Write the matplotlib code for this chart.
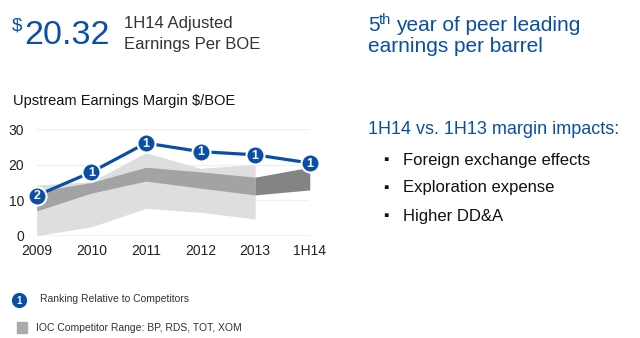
import matplotlib
matplotlib.use("Agg")
import matplotlib.pyplot as plt
from matplotlib.patches import Rectangle

plt.rcParams['font.family'] = ['Liberation Sans', 'DejaVu Sans']

years = ["2009", "2010", "2011", "2012", "2013", "1H14"]
margin = [11.3, 17.9, 26.1, 23.7, 22.8, 20.5]
ranking = [2, 1, 1, 1, 1, 1]
outer_low = [0.0, 2.5, 7.7, 6.6, 4.7]
outer_high = [14.3, 15.2, 23.4, 19.0, 20.1]
band_low = [7.0, 12.0, 15.4, 13.4, 11.5, 12.9]
band_high = [12.4, 15.0, 19.3, 18.0, 16.5, 19.3]
yticks = [0, 10, 20, 30]

BLUE = "#0a4ea6"
fig = plt.figure(figsize=(6.4, 3.38), dpi=100)
ax = fig.add_axes([0.0573, 0.3027, 0.4267, 0.3148])
x = list(range(len(years)))

for y in yticks[1:]:
    ax.axhline(y, color="#f0f0f0", lw=1, zorder=0)
ax.axhline(0, color="#bfbfbf", lw=1, zorder=1)

ax.fill_between(x[:5], outer_low, outer_high, color="#dedede", lw=0, zorder=1)
ax.fill_between(x[:5], band_low[:5], band_high[:5], color="#a3a3a3", lw=0, zorder=2)
ax.fill_between(x[4:], band_low[4:], band_high[4:], color="#848484", lw=0, zorder=2)

ax.plot(x, margin, color=BLUE, lw=2.3, zorder=3, clip_on=False)
ax.plot(x, margin, 'o', ms=13, mfc=BLUE, mec="white", mew=1.5, zorder=4, clip_on=False)
for xi, yi, r in zip(x, margin, ranking):
    ax.text(xi, yi - 0.2, str(r), color="white", fontsize=9, fontweight="bold",
            ha="center", va="center", zorder=5)

ax.set_xlim(0, 5)
ax.set_ylim(0, 30)
ax.set_xticks(x)
ax.set_xticklabels(years)
ax.set_yticks(yticks)
ax.tick_params(length=0, labelsize=10, colors="#222222")
ax.tick_params(axis='x', pad=6)
ax.tick_params(axis='y', pad=9)
for s in ax.spines.values():
    s.set_visible(False)

fig.text(13/640, 1 - 101/338, "Upstream Earnings Margin $/BOE", fontsize=10.5,
         color="#111111", va="center", ha="left")

def Y(py):
    return 1 - py / 338

# header
fig.text(12/640, Y(31), "$", fontsize=13.5, color=BLUE, va="baseline", ha="left")
fig.text(24.5/640, Y(44), "20.32", fontsize=24.5, color=BLUE, va="baseline", ha="left")
fig.text(124/640, Y(28), "1H14 Adjusted", fontsize=12, color="#333333", va="baseline")
fig.text(124/640, Y(49), "Earnings Per BOE", fontsize=12, color="#333333", va="baseline")
fig.text(368/640, Y(31), "5", fontsize=15, color=BLUE, va="baseline")
fig.text(378.5/640, Y(24.5), "th", fontsize=10.5, color=BLUE, va="baseline")
fig.text(396.5/640, Y(31), "year of peer leading", fontsize=15, color=BLUE, va="baseline")
fig.text(368/640, Y(52.5), "earnings per barrel", fontsize=15, color=BLUE, va="baseline")

fig.text(368/640, Y(130), "1H14 vs. 1H13 margin impacts:", fontsize=13,
         color=BLUE, va="center")
for i, t in enumerate(["Foreign exchange effects", "Exploration expense", "Higher DD&A"]):
    yy = Y(160 + 28 * i)
    fig.text(383/640, yy, "\u25aa", fontsize=11, color="#111111", va="center")
    fig.text(403/640, yy, t, fontsize=12, color="#111111", va="center")

# legend
fig.lines.append(plt.Line2D([19/640], [Y(300)], marker='o', ms=12, mfc=BLUE,
                            mec="white", transform=fig.transFigure))
fig.text(19/640, Y(300.5), "1", fontsize=7, color="white", fontweight="bold",
         ha="center", va="center")
fig.text(40/640, Y(299), "Ranking Relative to Competitors", fontsize=7.5,
         color="#333333", va="center")
fig.patches.append(Rectangle((17/640, Y(333)), 10/640, 11/338, color="#ababab",
                             transform=fig.transFigure))
fig.text(36/640, Y(328), "IOC Competitor Range: BP, RDS, TOT, XOM", fontsize=7.5,
         color="#333333", va="center")

fig.savefig("out.png", dpi=100)
